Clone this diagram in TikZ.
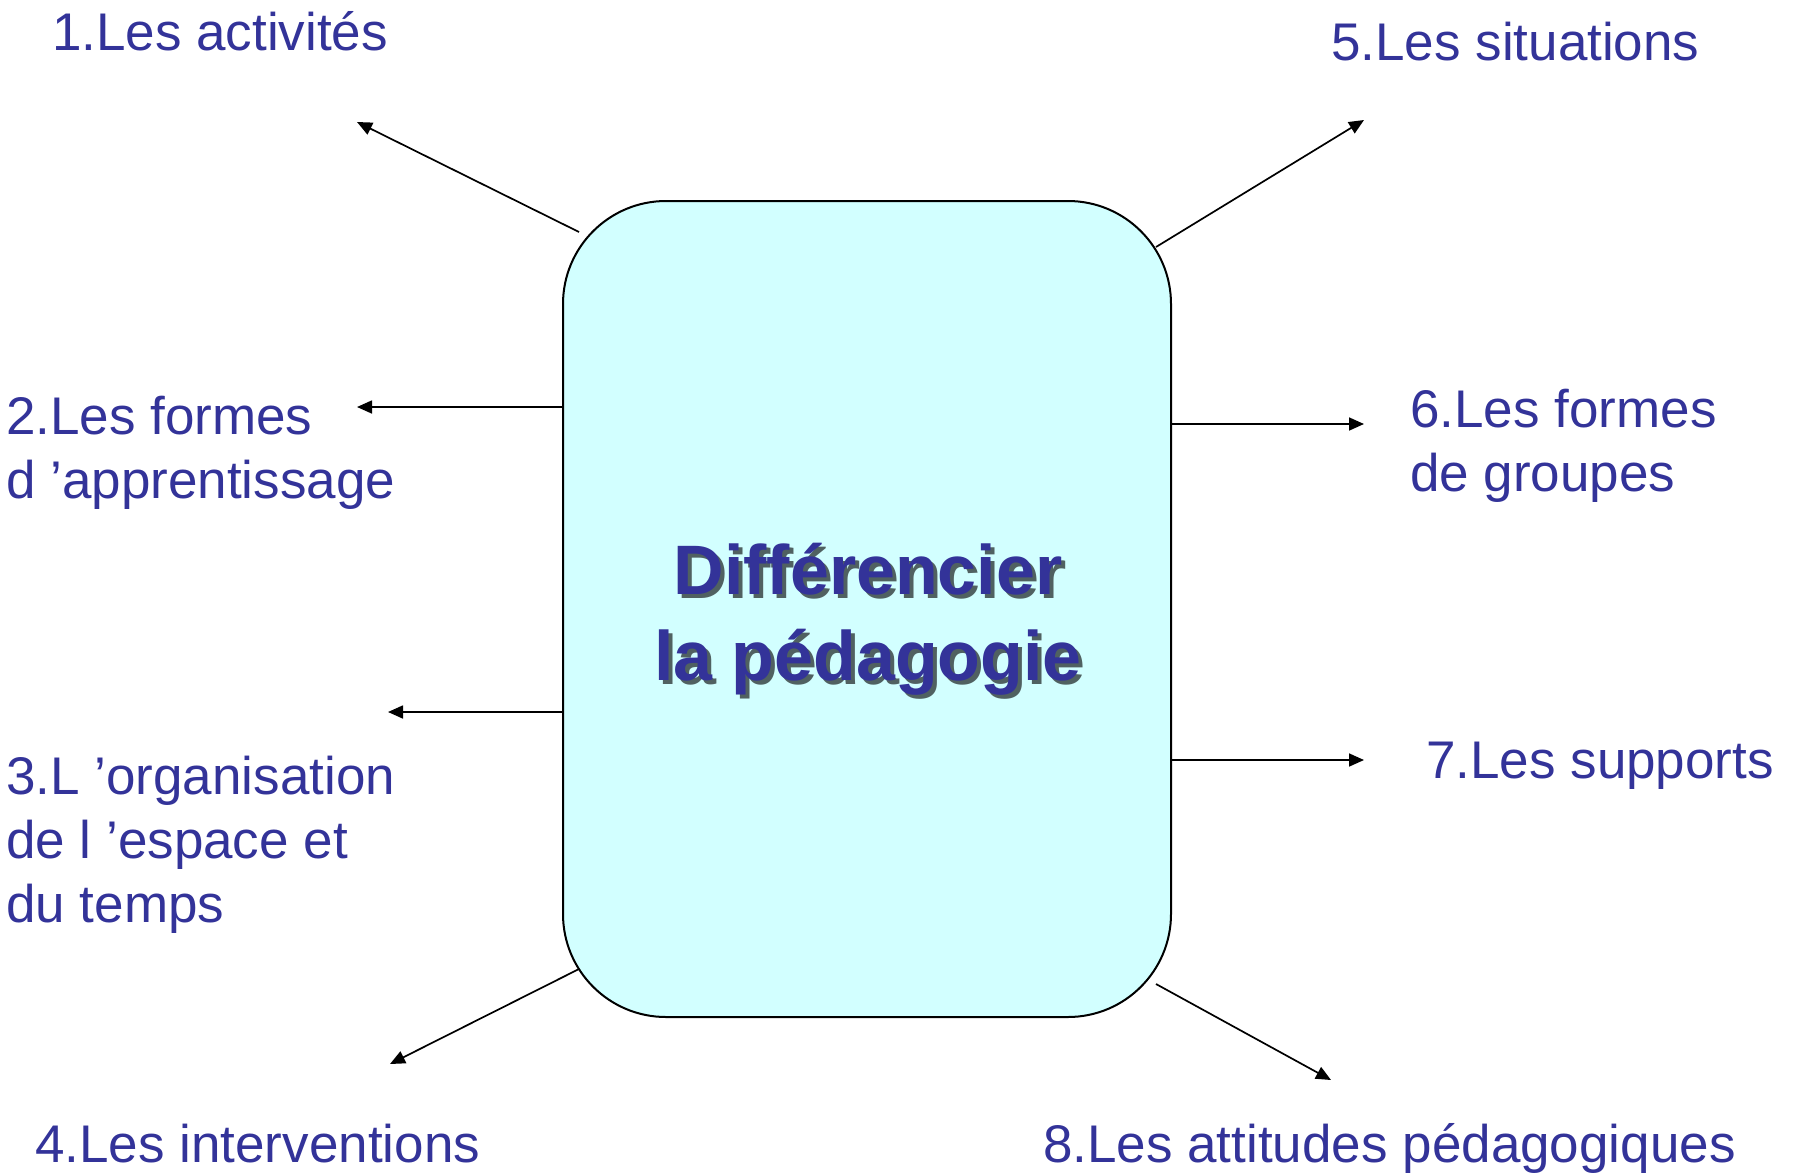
\documentclass[tikz,border=0pt]{standalone}
\usepackage{fontspec}
\setmainfont{Liberation Sans}
\usetikzlibrary{arrows.meta}
\definecolor{txtblue}{HTML}{333399}
\definecolor{boxfill}{HTML}{D2FFFF}
\colorlet{shadowc}{black!62!boxfill}
\newcommand{\shadowtext}[1]{\makebox[0pt][l]{\hspace{4pt}\raisebox{-4pt}{\textcolor{shadowc}{#1}}}#1}
\tikzset{
  lbl/.style={anchor=base west, inner sep=0pt, text=txtblue, font=\fontsize{53}{64}\selectfont},
  ctr/.style={anchor=base, inner sep=0pt, text=txtblue, font=\fontsize{70}{86}\selectfont\bfseries},
  conn/.style={line width=1.7pt, -{Triangle[length=15pt,width=13pt]}},
  mainbox/.style={draw=black, line width=2pt, fill=boxfill, rounded corners=103pt,
    minimum width=608pt, minimum height=816pt, inner sep=0pt}
}
\begin{document}
\begin{tikzpicture}[x=1pt,y=-1pt]
\useasboundingbox (0,0) rectangle (1799,1173);
\node[mainbox] (box) at (867,609) {};
% shadowed title
\node[ctr] (t1) at (868,594) {\shadowtext{Différencier}};
\node[ctr] (t2) at (868,680) {\shadowtext{la pédagogie}};
% labels
\node[lbl] (l1) at (52,50) {1.Les activités};
\node[lbl] (l2a) at (6,434) {2.Les formes};
\node[lbl] (l2b) at (6,498) {d ’apprentissage};
\node[lbl] (l3a) at (6,794) {3.L ’organisation};
\node[lbl] (l3b) at (6,858) {de l ’espace et};
\node[lbl] (l3c) at (6,922) {du temps};
\node[lbl] (l4) at (35,1162) {4.Les interventions};
\node[lbl] (l5) at (1331,60) {5.Les situations};
\node[lbl] (l6a) at (1410,427) {6.Les formes};
\node[lbl] (l6b) at (1410,491) {de groupes};
\node[lbl] (l7) at (1426,778) {7.Les supports};
\node[lbl] (l8) at (1043,1162) {8.Les attitudes pédagogiques};
% connector ends
\coordinate (s1) at (579,232); \coordinate (e1) at (357,122);
\coordinate (s2) at (563,407); \coordinate (e2) at (357,407);
\coordinate (s3) at (563,712); \coordinate (e3) at (388,712);
\coordinate (s4) at (579,969); \coordinate (e4) at (390,1064);
\coordinate (s5) at (1156,247); \coordinate (e5) at (1364,120);
\coordinate (s6) at (1171,424); \coordinate (e6) at (1364,424);
\coordinate (s7) at (1171,760); \coordinate (e7) at (1364,760);
\coordinate (s8) at (1156,984); \coordinate (e8) at (1331,1080);
\foreach \i in {1,...,8} {\draw[conn] (s\i) -- (e\i);}
\end{tikzpicture}
\end{document}
